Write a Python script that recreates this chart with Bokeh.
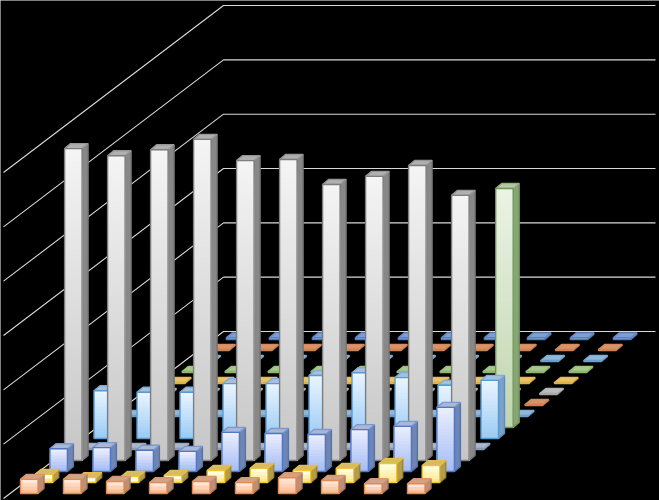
from bokeh.plotting import figure
from bokeh.models import Range1d, ColumnDataSource
from bokeh.embed import file_html
from bokeh.resources import INLINE

# ---- data: one list per series, front row to back row (None = not visible)
categories = list(range(10))
ticks = [0, 100, 200, 300, 400, 500, 600]
s_orange_1 = [26, 26, 22, 20, 22, 20, 29, 24, 18, 18]
s_yellow_1 = [15, 9, 11, 13, 22, 26, 22, 26, 35, 31]
s_blue_1 = [42, 44, 39, 37, 72, 70, 68, 77, 83, 118]
s_gray_1 = [574, 561, 572, 591, 552, 554, 508, 523, 543, 488]
s_slate_1 = [2, 2, 2, 2, 2, 2, 2, 2, 2, 2]
s_sky_1 = [88, 85, 85, 101, 101, 116, 121, 112, 98, 107]
s_green_1 = [None, None, None, None, None, None, None, None, None, 440]
s_sky_2 = [2, 2, 2, 2, 2, 2, 2, 2, 2, 2]
s_orange_2 = [2, 2, 2, 2, 2, 2, 2, 2, 2, 2]
s_gray_2 = [2, 2, 2, 2, 2, 2, 2, 2, 2, 2]
s_yellow_2 = [2, 2, 2, 2, 2, 2, 2, 2, 2, 2]
s_green_2 = [2, 2, 2, 2, 2, 2, 2, 2, 2, 2]
s_sky_3 = [2, 2, 2, 2, 2, 2, 2, 2, 2, 2]
s_orange_3 = [2, 2, 2, 2, 2, 2, 2, 2, 2, 2]
s_blue_2 = [3, 3, 3, 3, 3, 3, 3, 3, 3, 3]

series = [s_orange_1, s_yellow_1, s_blue_1, s_gray_1, s_slate_1, s_sky_1, s_green_1,
          s_sky_2, s_orange_2, s_gray_2, s_yellow_2, s_green_2, s_sky_3, s_orange_3, s_blue_2]

# ---- styles: edge, gradient top, gradient bottom, roof, side
ORANGE = ("#e28a52", "#ffe6d6", "#f9bd98", "#d3a387", "#bb8f78")
YELLOW = ("#f2c433", "#fffde2", "#ffe88c", "#d6bb62", "#b39c4e")
BLUE = ("#4f78c6", "#e9edfd", "#a6bdf5", "#a9b8d9", "#6f86b4")
GRAY = ("#7d7d7d", "#f4f4f4", "#c6c6c6", "#b0b0b0", "#888888")
SLATE = ("#8a9ab5", "#dde3ee", "#c0cbdb", "#a9b8cc", "#8b9bb3")
SKY = ("#5a9ad3", "#e8f4ff", "#9ccbf5", "#a5c0dd", "#7ba3c9")
GREEN = ("#6f9654", "#ebf3e5", "#c0d6ae", "#b7c9ab", "#86a771")
FLAT_SKY = ("#6d9fcc", "#dcebf7", "#9cc3e2", "#8fb8dc", "#7ea6cc")
FLAT_ORANGE = ("#cf8250", "#f3d3bd", "#d9936a", "#d9936a", "#bf9179")
FLAT_GRAY = ("#a8a8a8", "#dddddd", "#bdbdbd", "#bdbdbd", "#8e8e8e")
FLAT_YELLOW = ("#dcb24a", "#f5e3b0", "#e8c367", "#e8c367", "#b9a24f")
FLAT_GREEN = ("#8fb56f", "#d5e5c8", "#a8c98d", "#a8c98d", "#86a771")
FLAT_BLUE = ("#4e78c0", "#e9edfd", "#7e9fd0", "#7e9fd0", "#7189b8")
styles = [ORANGE, YELLOW, BLUE, GRAY, SLATE, SKY, GREEN, FLAT_SKY, FLAT_ORANGE,
          FLAT_GRAY, FLAT_YELLOW, FLAT_GREEN, FLAT_SKY, FLAT_ORANGE, FLAT_BLUE]

# ---- oblique projection (chart units -> canvas)
W, H = 659, 500
CAT_STEP, ROW_DX, ROW_DY = 43.0, 14.7, 11.0
X0, Y0 = 20.0, 7.0
BAR_W, BAR_DX, BAR_DY = 17.5, 6.0, 5.0
UNIT = 54.33 / 100
WALL_X0, WALL_X1, WALL_Y0, FRONT_X, FRONT_DY = 223, 655, 169, 3, 167


def mix(a, b, t):
    ca = [int(a[i:i + 2], 16) for i in (1, 3, 5)]
    cb = [int(b[i:i + 2], 16) for i in (1, 3, 5)]
    return "#%02x%02x%02x" % tuple(round(p + (q - p) * t) for p, q in zip(ca, cb))


poly = dict(xs=[], ys=[], fill=[], fa=[], line=[], la=[])


def add(xs, ys, fill, line=None):
    poly["xs"].append(xs)
    poly["ys"].append(ys)
    poly["fill"].append(fill if fill else "#000000")
    poly["fa"].append(1.0 if fill else 0.0)
    poly["line"].append(line if line else "#000000")
    poly["la"].append(1.0 if line else 0.0)


for r in range(len(series) - 1, -1, -1):
    edge, c_top, c_bot, roof, side = styles[r]
    for c in categories:
        v = series[r][c]
        if v is None:
            continue
        x = X0 + c * CAT_STEP + r * ROW_DX
        y = Y0 + r * ROW_DY
        h = v * UNIT
        # side
        add([x + BAR_W, x + BAR_W + BAR_DX, x + BAR_W + BAR_DX, x + BAR_W],
            [y, y + BAR_DY, y + h + BAR_DY, y + h], side, mix(side, "#000000", 0.15))
        # roof
        add([x, x + BAR_W, x + BAR_W + BAR_DX, x + BAR_DX],
            [y + h, y + h, y + h + BAR_DY, y + h + BAR_DY], roof, mix(edge, roof, 0.5))
        # front with vertical gradient
        n = max(1, int(h / 3))
        for i in range(n):
            t = i / max(1, n - 1)
            top = y + h * (1 - i / n)
            add([x, x + BAR_W, x + BAR_W, x], [y, y, top, top], mix(c_top, c_bot, t))
        add([x, x + BAR_W, x + BAR_W, x], [y, y, y + h, y + h], None, edge)

p = figure(width=W, height=H, x_range=Range1d(0, W), y_range=Range1d(0, H),
           output_backend="svg", toolbar_location=None,
           x_axis_location=None, y_axis_location=None, min_border=0,
           background_fill_color="#000000", border_fill_color="#000000",
           outline_line_color=None)
p.grid.visible = False
p.styles = {"position": "fixed", "left": "0px", "top": "0px"}

# wall and side-wall grid
gx, gy = [], []
for t in ticks:
    wy = WALL_Y0 + t * UNIT
    gx.append([FRONT_X, WALL_X0, WALL_X1])
    gy.append([wy - FRONT_DY, wy, wy])
p.multi_line(gx, gy, line_color="#d9d9d9", line_width=1.1)

p.patches("xs", "ys", source=ColumnDataSource(poly), fill_color="fill", fill_alpha="fa",
          line_color="line", line_alpha="la", line_width=1.4)

open("out.html", "w").write(file_html(p, INLINE))
